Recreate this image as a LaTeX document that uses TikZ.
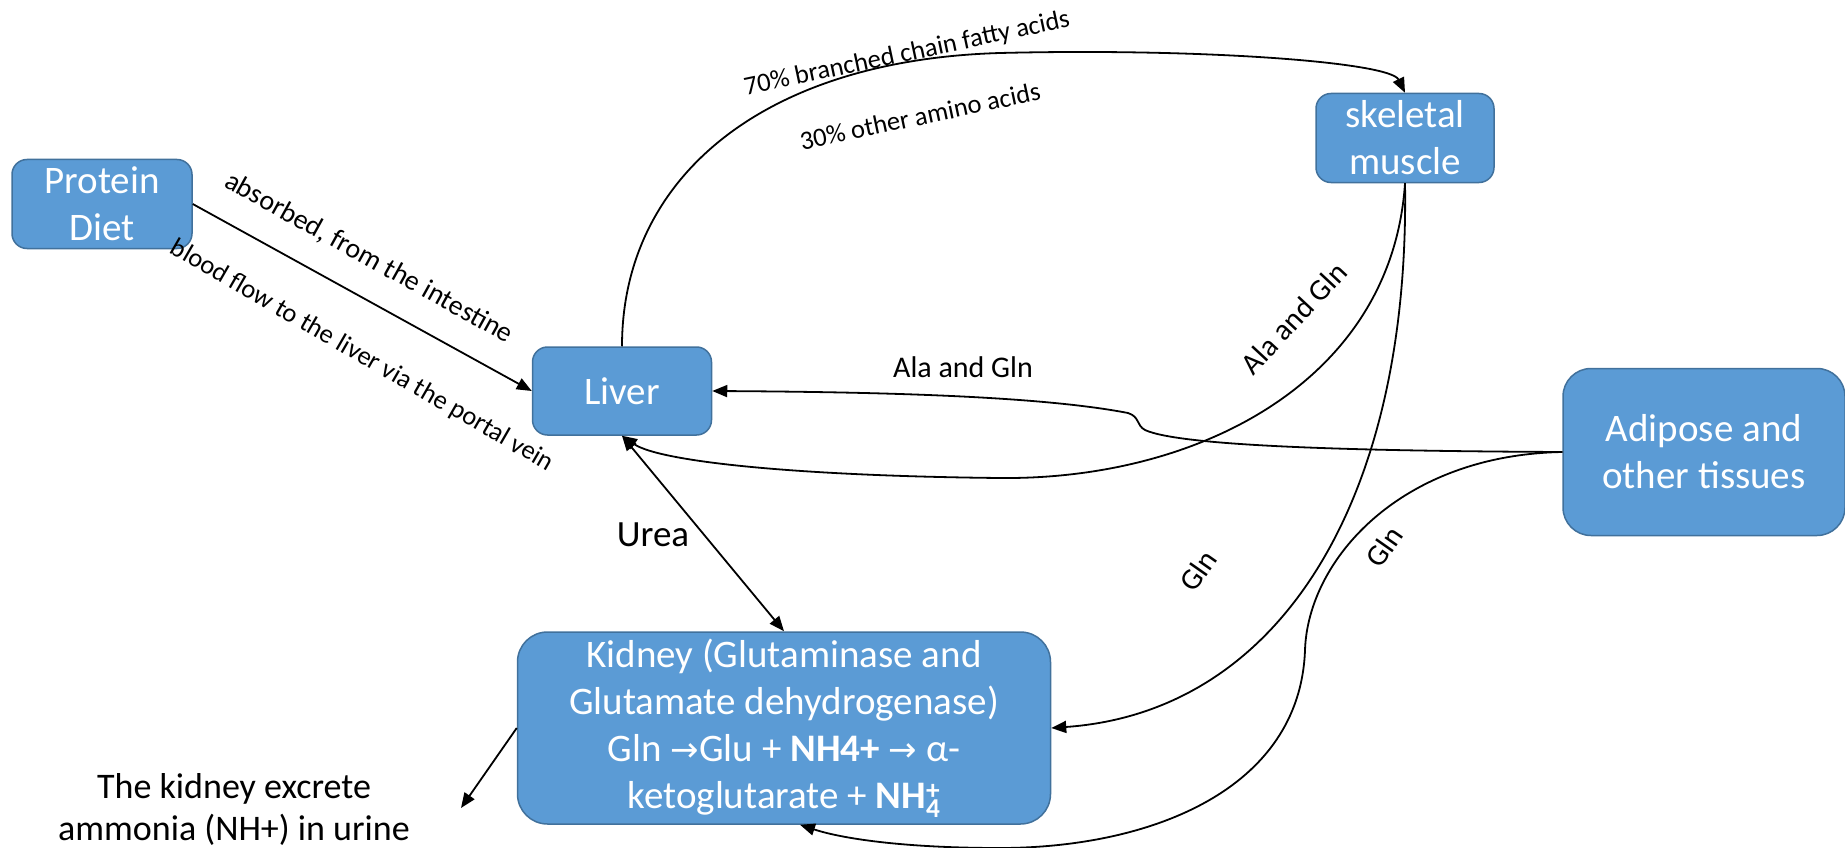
\documentclass[tikz,border=0pt]{standalone}
\usepackage{fontspec}
\setmainfont{Carlito}
\newfontfamily\dejavu{DejaVu Sans}
\usetikzlibrary{arrows.meta}
\definecolor{boxfill}{HTML}{5B9BD5}
\definecolor{boxborder}{HTML}{41719C}
\tikzset{
  box/.style={draw=boxborder, line width=1.5pt, fill=boxfill, rounded corners=15pt,
    text=white, align=center, font=\fontsize{39}{47}\selectfont, inner sep=0pt},
  arr/.style={line width=1.8pt, -{Triangle[length=15pt,width=12pt]}},
  darr/.style={line width=1.8pt, {Triangle[length=15pt,width=12pt]}-{Triangle[length=15pt,width=12pt]}},
  lbl/.style={inner sep=0pt, font=\fontsize{30}{36}\selectfont},
  slbl/.style={inner sep=0pt, font=\fontsize{28}{34}\selectfont},
  tlbl/.style={inner sep=0pt, font=\fontsize{26.5}{32}\selectfont},
}
\begin{document}
\begin{tikzpicture}[x=1pt,y=-1pt]
\useasboundingbox (0,0) rectangle (1845,848);
% nodes
\node[box, minimum width=180pt, minimum height=89pt] (diet) at (102,204) {Protein\\Diet};
\node[box, minimum width=179pt, minimum height=88pt] (liver) at (622,391) {Liver};
\node[box, minimum width=178pt, minimum height=89pt] (muscle) at (1405,138) {skeletal\\muscle};
\node[box, minimum width=282pt, minimum height=167pt, rounded corners=28pt] (adipose) at (1704,452) {Adipose and\\other tissues};
\node[box, minimum width=533pt, minimum height=192pt, rounded corners=30pt] (kidney) at (784,728)
  {Kidney (Glutaminase and\\Glutamate dehydrogenase)\\Gln {\dejavu\fontsize{34}{47}\selectfont →}Glu + \textbf{NH4+} {\dejavu\fontsize{34}{47}\selectfont →} α-\\ketoglutarate + \textbf{NH\rlap{\textsubscript{4}}\textsuperscript{+}}};
\node[inner sep=0pt, align=center, font=\fontsize{36}{42}\selectfont] (ktext) at (234,809) {The kidney excrete\\ammonia (NH+) in urine};
\coordinate (urine) at (461,808);

% connectors
\draw[arr] (diet.east) -- (liver.west);
\draw[arr] (liver.north) .. controls (622,180) and (760,60) .. (1000,53)
  .. controls (1200,48) and (1390,62) .. (muscle.north);
\draw[arr] (muscle.south) .. controls (1392,380) and (1200,480) .. (1000,478)
  .. controls (800,476) and (660,462) .. (liver.south);
\draw[arr] (adipose.west) .. controls (1350,451) and (1180,446) .. (1145,430)
  .. controls (1136,425) and (1140,417) .. (1128,413)
  .. controls (1040,396) and (880,392) .. (liver.east);
\draw[arr] (muscle.south) .. controls (1410,500) and (1280,712) .. (kidney.east);
\draw[arr] (adipose.west) .. controls (1400,455) and (1308,560) .. (1305,650)
  .. controls (1300,790) and (1150,848) .. (1000,848)
  .. controls (900,848) and (840,838) .. ([xshift=16pt]kidney.south);
\draw[darr] (liver.south) -- (kidney.north);
\draw[arr] (kidney.west) -- (urine);

% labels
\node[slbl, rotate=-29] (l1) at (369,258) {absorbed, from the intestine};
\node[tlbl, rotate=-30] (l2) at (362,356) {blood flow to the liver via the portal vein};
\node[tlbl, rotate=12] (l3) at (907,54) {70\% branched chain fatty acids};
\node[tlbl, rotate=12] (l4) at (920,116) {30\% other amino acids};
\node[lbl] (l5) at (963,367) {Ala and Gln};
\node[lbl, rotate=47] (l6) at (1294,318) {Ala and Gln};
\node[lbl, rotate=55] (l7) at (1198,571) {Gln};
\node[lbl, rotate=55] (l8) at (1384,547) {Gln};
\node[inner sep=0pt, font=\fontsize{37}{44}\selectfont] (l9) at (653,535) {Urea};
\end{tikzpicture}
\end{document}
